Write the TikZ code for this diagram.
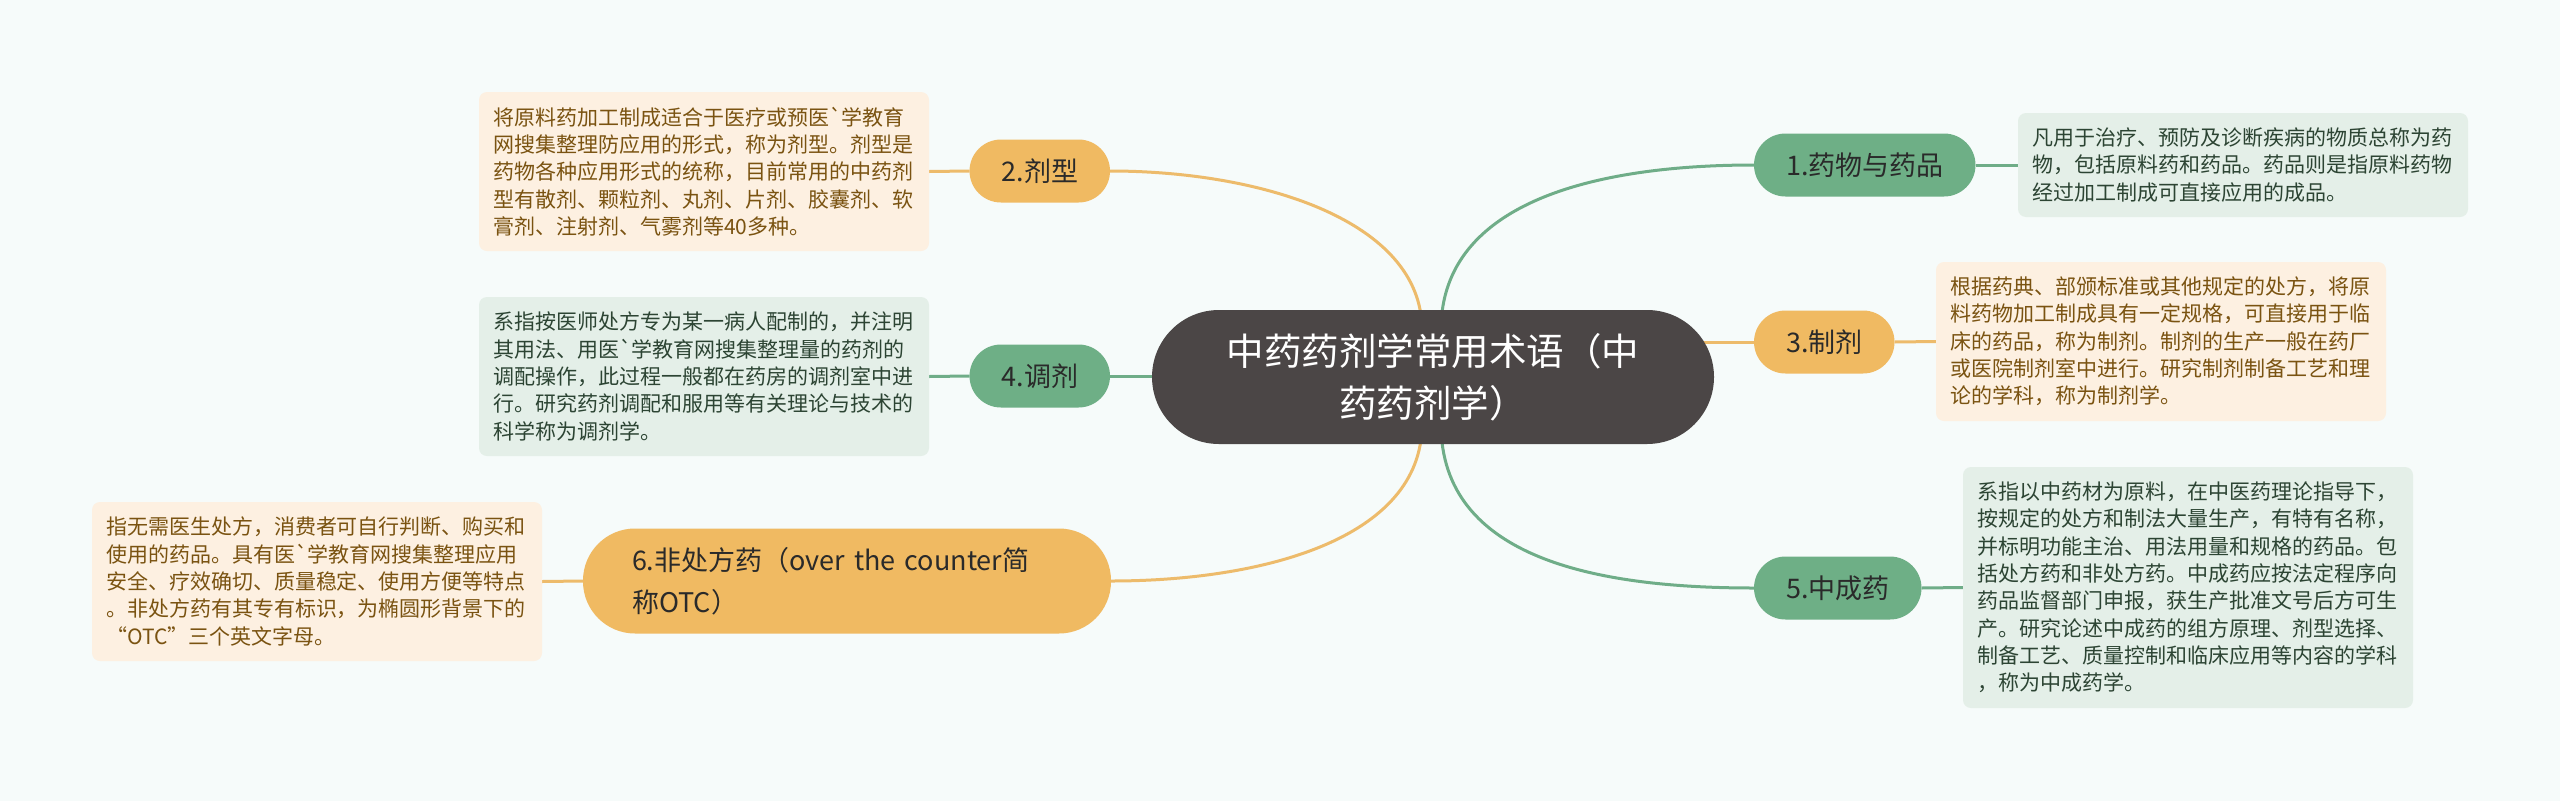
\documentclass[tikz,border=0pt]{standalone}
\usepackage{fontspec}
\setmainfont{Noto Sans CJK SC}[Ligatures=TeXOff]
\pgfdeclarelayer{bglayer}
\pgfdeclarelayer{linelayer}
\pgfsetlayers{bglayer,linelayer,main}
\definecolor{bgc}{HTML}{F6FBFA}
\definecolor{rootc}{HTML}{4B4646}
\definecolor{orn}{HTML}{F0BA62}
\definecolor{grn}{HTML}{6EAF86}
\definecolor{ornline}{HTML}{EDBB6B}
\definecolor{grnline}{HTML}{6FAD88}
\definecolor{ornbox}{HTML}{FDF0E1}
\definecolor{grnbox}{HTML}{E4EFE8}
\definecolor{orntext}{HTML}{7A5311}
\definecolor{grntext}{HTML}{2C4433}
\definecolor{nodetext}{HTML}{2A2A2A}
\begin{document}
\begin{tikzpicture}[x=1pt,y=-1pt,
  every node/.style={inner sep=0pt, outer sep=0pt},
  root/.style={fill=rootc, text=white, rounded corners=67pt, minimum width=562pt, minimum height=134pt, align=center, font=\fontsize{37.5}{52}\selectfont},
  topic/.style={rounded corners=31.5pt, minimum height=63pt, inner xsep=32pt, text=nodetext, font=\fontsize{27}{40}\selectfont},
  otopic/.style={topic, fill=orn},
  gtopic/.style={topic, fill=grn},
  note/.style={rounded corners=8pt, text width=422pt, inner xsep=14pt, align=left, font=\fontsize{21}{27.3}\selectfont},
  onote/.style={note, fill=ornbox, text=orntext},
  gnote/.style={note, fill=grnbox, text=grntext},
  oline/.style={draw=ornline, line width=3pt},
  gline/.style={draw=grnline, line width=3pt}]
\useasboundingbox (0,0) rectangle (2560,801);
\begin{pgfonlayer}{bglayer}
\fill[bgc] (0,0) rectangle (2560,801);
\end{pgfonlayer}

\node[root] (root) at (1433,377) {中药药剂学常用术语（中\\药药剂学）};

\node[otopic, anchor=east] (t2) at (1110,171) {2.剂型};
\node[gtopic, anchor=east] (t4) at (1110,376) {4.调剂};
\node[otopic, anchor=east, minimum height=105pt, rounded corners=52pt, text width=430pt, inner xsep=49pt, align=left, font=\fontsize{27}{42}\selectfont] (t6) at (1111,581) {6.非处方药（over the counter简\\称OTC）};
\node[gtopic, anchor=west] (t1) at (1754,165) {1.药物与药品};
\node[otopic, anchor=west] (t3) at (1754,342) {3.制剂};
\node[gtopic, anchor=west] (t5) at (1754,588) {5.中成药};

\node[onote, anchor=north west, minimum height=159pt] (n2) at (479,92) {%
将原料药加工制成适合于医疗或预医`学教育\\%
网搜集整理防应用的形式，称为剂型。剂型是\\%
药物各种应用形式的统称，目前常用的中药剂\\%
型有散剂、颗粒剂、丸剂、片剂、胶囊剂、软\\%
膏剂、注射剂、气雾剂等40多种。};

\node[gnote, anchor=north west, minimum height=159pt] (n4) at (479,297) {%
系指按医师处方专为某一病人配制的，并注明\\%
其用法、用医`学教育网搜集整理量的药剂的\\%
调配操作，此过程一般都在药房的调剂室中进\\%
行。研究药剂调配和服用等有关理论与技术的\\%
科学称为调剂学。};

\node[onote, anchor=north west, minimum height=159pt] (n6) at (92,502) {%
指无需医生处方，消费者可自行判断、购买和\\%
使用的药品。具有医`学教育网搜集整理应用\\%
安全、疗效确切、质量稳定、使用方便等特点\\%
。非处方药有其专有标识，为椭圆形背景下的\\%
“OTC”三个英文字母。};

\node[gnote, anchor=north west, minimum height=104pt] (n1) at (2018,113) {%
凡用于治疗、预防及诊断疾病的物质总称为药\\%
物，包括原料药和药品。药品则是指原料药物\\%
经过加工制成可直接应用的成品。};

\node[onote, anchor=north west, minimum height=159pt] (n3) at (1936,262) {%
根据药典、部颁标准或其他规定的处方，将原\\%
料药物加工制成具有一定规格，可直接用于临\\%
床的药品，称为制剂。制剂的生产一般在药厂\\%
或医院制剂室中进行。研究制剂制备工艺和理\\%
论的学科，称为制剂学。};

\node[gnote, anchor=north west, minimum height=241pt] (n5) at (1963,467) {%
系指以中药材为原料，在中医药理论指导下，\\%
按规定的处方和制法大量生产，有特有名称，\\%
并标明功能主治、用法用量和规格的药品。包\\%
括处方药和非处方药。中成药应按法定程序向\\%
药品监督部门申报，获生产批准文号后方可生\\%
产。研究论述中成药的组方原理、剂型选择、\\%
制备工艺、质量控制和临床应用等内容的学科\\%
，称为中成药学。};

\coordinate (rtl) at (1422,330);
\coordinate (rtr) at (1441,330);
\coordinate (rbl) at (1422,424);
\coordinate (rbr) at (1441,424);

\begin{pgfonlayer}{linelayer}
\draw[oline] (rtl) .. controls (1422,220) and (1260,171) .. (t2.east);
\draw[gline] (rtr) .. controls (1441,200) and (1600,165) .. (t1.west);
\draw[oline] (rbl) .. controls (1422,540) and (1260,581) .. (t6.east);
\draw[gline] (rbr) .. controls (1441,560) and (1600,588) .. (t5.west);
\draw[gline] (root.center |- t4.east) -- (t4.east);
\draw[oline] (root.center |- t3.west) -- (t3.west);
\draw[oline] (n2.east) -- (t2.west);
\draw[gline] (n4.east) -- (t4.west);
\draw[oline] (n6.east) -- (t6.west);
\draw[gline] (t1.east) -- (n1.west);
\draw[oline] (t3.east) -- (n3.west);
\draw[gline] (t5.east) -- (n5.west);
\end{pgfonlayer}
\end{tikzpicture}
\end{document}
